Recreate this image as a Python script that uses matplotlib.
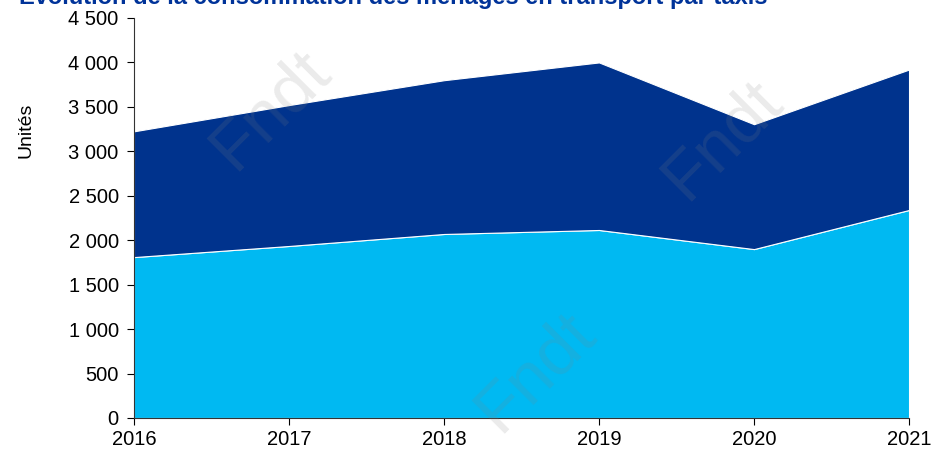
import matplotlib.pyplot as plt
import numpy as np

plt.rcParams['font.family'] = ['Liberation Sans', 'DejaVu Sans']

years = [2016, 2017, 2018, 2019, 2020, 2021]
# lower layer (light blue) and upper layer (dark blue), stacked
base = [1810, 1935, 2070, 2115, 1900, 2340]
upper = [1415, 1585, 1730, 1885, 1405, 1580]
y_ticks = [0, 500, 1000, 1500, 2000, 2500, 3000, 3500, 4000, 4500]
title = "Evolution de la consommation des ménages en transport par taxis"

light = "#00B9F2"
dark = "#00338D"

fig = plt.figure(figsize=(9.33, 4.53), dpi=100)
ax = fig.add_axes([0.1436, 0.0773, 0.8307, 0.883])

ax.stackplot(years, base, upper, colors=[light, dark],
             edgecolor="white", linewidth=0.8)

ax.set_xlim(years[0], years[-1])
ax.set_ylim(0, 4500)
ax.set_xticks(years)
ax.set_yticks(y_ticks)
ax.set_yticklabels([f"{v:,}".replace(",", " ") for v in y_ticks])
ax.tick_params(labelsize=14.5, length=5, color="black", direction="out")
ax.tick_params(axis="y", pad=6)
ax.set_ylabel("Unités", fontsize=14)
ax.yaxis.set_label_coords(-0.128, 0.72)
for s in ["top", "right"]:
    ax.spines[s].set_visible(False)
ax.spines["left"].set_color("#333333")
ax.spines["bottom"].set_color("#333333")

fig.text(0.02, 1.006, title, fontsize=17, fontweight="bold", color="#003399",
         va="center", ha="left")

# watermarks
for wx, wy in [(270, 110), (722, 140), (535, 372), (960, 475)]:
    fig.text(wx / 933, 1 - wy / 453, "Fndt", fontsize=50, rotation=45,
             color="gray", alpha=0.16, ha="center", va="center")

fig.savefig("out.png", dpi=100)
